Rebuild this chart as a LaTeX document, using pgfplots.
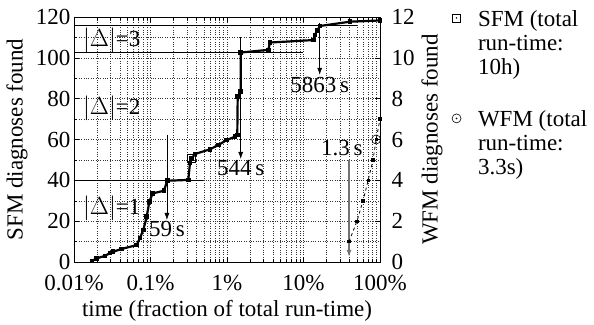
\documentclass[border=0pt]{standalone}
\usepackage{fontspec}
\setmainfont{Liberation Serif}
\usepackage{pgfplots}
\pgfplotsset{compat=1.18}
\usetikzlibrary{arrows.meta}

\pgfdeclareplotmark{sqdot}{%
 \pgfpathrectangle{\pgfqpoint{-\pgfplotmarksize}{-\pgfplotmarksize}}{\pgfqpoint{2\pgfplotmarksize}{2\pgfplotmarksize}}%
 \pgfusepathqstroke
 \pgfpathcircle{\pgfpointorigin}{0.2\pgfplotmarksize}\pgfusepathqfill}
\pgfdeclareplotmark{cdot}{%
 \pgfpathcircle{\pgfpointorigin}{\pgfplotmarksize}\pgfusepathqstroke
 \pgfpathcircle{\pgfpointorigin}{0.2\pgfplotmarksize}\pgfusepathqfill}

\begin{document}
\begin{tikzpicture}[font=\fontsize{23bp}{27bp}\selectfont]
\useasboundingbox (-74bp,-63bp) rectangle (520bp,262bp);
\begin{axis}[
 scale only axis, width=306bp, height=245bp,
 xmode=log, xmin=0.01, xmax=100,
 /pgf/number format/assume math mode=true,
 tick align=inside,
 major tick length=5bp, minor tick length=3bp,
 tick style={black, line width=0.5bp},
 ymin=0, ymax=120,
 xtick={0.01,0.1,1,10,100},
 xticklabels={0.01\%,0.1\%,1\%,10\%,100\%},
 xticklabel style={yshift=-10bp},
 ytick={0,20,...,120},
 minor ytick={10,30,...,110},
 ytick pos=left,
 grid=both,
 major grid style={dotted, black!80, line width=0.5bp},
 minor grid style={dotted, black!80, line width=0.5bp},
 axis line style={line width=0.8bp},
 xlabel={time (fraction of total run-time)},
 ylabel={SFM diagnoses found},
 xlabel style={at={(axis description cs:0.5,-0.2)}, anchor=center},
 ylabel style={at={(axis description cs:-0.186,0.5)}, anchor=center},
]
% Delta level lines
\addplot[black, line width=0.6bp, forget plot] coordinates {(0.01,40) (0.49,40)};
\addplot[black, line width=0.6bp, forget plot] coordinates {(0.01,102.5) (10,102.5)};
\addplot[black, line width=0.6bp, forget plot] coordinates {(0.01,116) (49.6,116)};
% SFM
\addplot[black, line width=2.2bp, mark=square*, mark size=1.2bp, mark options={solid}, forget plot] coordinates {
(0.0172,0.5) (0.0198,1.8) (0.0254,3) (0.0296,4.4) (0.0323,5) (0.042,6.4)
(0.066,8.3) (0.0729,11.8) (0.0805,15.7) (0.0892,22.2) (0.0965,29.5)
(0.1068,33.6) (0.150,34.9) (0.166,39.8) (0.312,40.2) (0.328,48.4)
(0.346,50.7) (0.382,52.9) (0.600,55.2) (0.769,57.3) (0.991,59.7)
(1.272,61.4) (1.363,62.2) (1.38,81) (1.51,83.4) (1.51,102.6)
(3.47,103.9) (3.65,107.5) (13.4,108.7) (14.1,111.2) (15.1,113.3)
(16.4,115.6) (40.5,117.7) (100,118.3)
};
\addplot[only marks, mark=sqdot, mark size=4bp, mark options={black, line width=0.6bp}, forget plot] coordinates {(0.346,50.7)};
% arrows
\draw[black, line width=0.6bp, -{Latex[length=7bp,width=5bp]}] (axis cs:0.164,62) -- (axis cs:0.164,20.6)
  node[anchor=north, inner sep=1bp] {59\,s};
\draw[black, line width=0.6bp, -{Latex[length=7bp,width=5bp]}] (axis cs:1.511,110) -- (axis cs:1.511,50.5)
  node[anchor=north, inner sep=1bp] {544\,s};
\draw[black, line width=0.6bp, -{Latex[length=7bp,width=5bp]}] (axis cs:16.29,117) -- (axis cs:16.29,91.7)
  node[anchor=north, inner sep=2bp] {5863\,s};
\draw[black!55, line width=1.2bp, -{Latex[length=7bp,width=5bp]}] (axis cs:39.4,50) -- (axis cs:39.4,2.5);
\node[anchor=center] at (axis cs:31.8,56) {1.3\,s};
% Delta labels
\node[anchor=west] at (axis cs:0.0118,26.5) {$|\Delta|$=1};
\node[anchor=west] at (axis cs:0.0118,75.5) {$|\Delta|$=2};
\node[anchor=west] at (axis cs:0.0118,108.8) {$|\Delta|$=3};
\end{axis}

\begin{axis}[
 scale only axis, width=306bp, height=245bp,
 xmode=log, xmin=0.01, xmax=100,
 /pgf/number format/assume math mode=true,
 tick align=inside,
 major tick length=5bp,
 tick style={black, line width=0.5bp},
 ymin=0, ymax=12,
 axis x line=none,
 axis y line*=right,
 axis line style={line width=0.8bp},
 ytick={0,2,...,12},
 yticklabel style={xshift=8bp},
 ylabel={WFM diagnoses found},
 ylabel style={at={(axis description cs:1.17,0.5)}, anchor=center},
 legend style={at={(axis description cs:1.225,1.045)}, anchor=north west, draw=none, fill=none,
   cells={align=left, anchor=north west, yshift=11bp}, row sep=31bp, column sep=15bp,
   font=\fontsize{23bp}{24bp}\selectfont},
 legend image post style={yshift=-10bp},
]
\addplot[black, line width=0.8bp, dashed, mark=square*, mark size=1.2bp, mark options={solid}, forget plot] coordinates {
(39.4,1) (50,2) (60,3) (70,4) (81,5) (89,6) (100,7)
};
\addplot[only marks, mark=cdot, mark size=4.5bp, mark options={black, line width=0.6bp}, forget plot] coordinates {(89,6)};
\addlegendimage{only marks, mark=sqdot, mark size=4bp, mark options={black, line width=0.6bp}}
\addlegendentry{SFM (total\\run-time:\\10h)}
\addlegendimage{only marks, mark=cdot, mark size=4.5bp, mark options={black, line width=0.6bp}}
\addlegendentry{WFM (total\\run-time:\\3.3s)}
\end{axis}
\end{tikzpicture}
\end{document}
